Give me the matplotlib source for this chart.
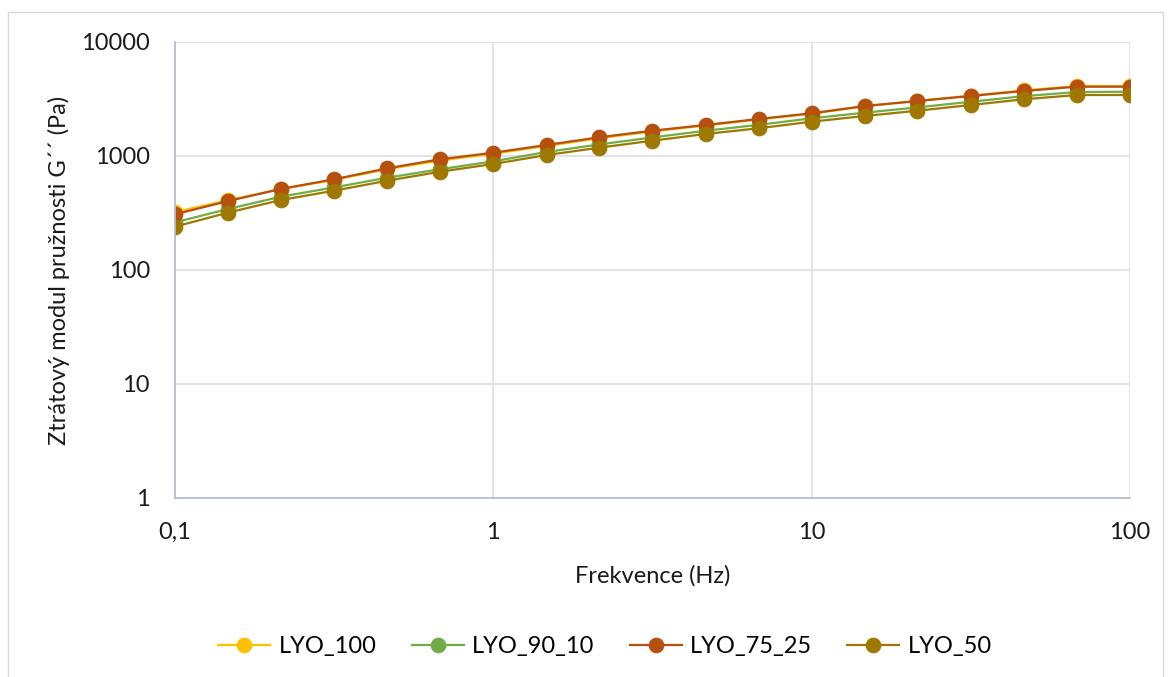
import numpy as np
import matplotlib.pyplot as plt
from matplotlib.patches import Rectangle

# frequency sweep, 6 points per decade
freq = [0.1, 0.147, 0.215, 0.316, 0.464, 0.681, 1.0, 1.47, 2.15, 3.16,
        4.64, 6.81, 10.0, 14.7, 21.5, 31.6, 46.4, 68.1, 100.0]

lyo_100 = [322, 410, 512, 618, 765, 915, 1045, 1225, 1430, 1640,
           1850, 2090, 2350, 2730, 3040, 3390, 3760, 4110, 4110]
lyo_90_10 = [262, 343, 440, 530, 645, 766, 898, 1085, 1262, 1455,
             1665, 1875, 2141, 2400, 2670, 2990, 3350, 3640, 3660]
lyo_75_25 = [308, 403, 514, 625, 780, 936, 1069, 1249, 1459, 1667,
             1871, 2112, 2370, 2746, 3037, 3360, 3718, 4055, 4055]
lyo_50 = [240, 319, 411, 496, 607, 728, 851, 1020, 1183, 1362,
          1560, 1750, 2000, 2244, 2497, 2801, 3143, 3428, 3428]

series = [("LYO_100", lyo_100, "#FFC000"),
          ("LYO_90_10", lyo_90_10, "#70AD47"),
          ("LYO_75_25", lyo_75_25, "#B5500F"),
          ("LYO_50", lyo_50, "#9E7800")]

plt.rcParams['font.family'] = ['Lato', 'DejaVu Sans']
fs = 17
txt = "#1a1a1a"

fig = plt.figure(figsize=(11.71, 6.77), dpi=100)
# outer chart border
fig.patches.append(Rectangle((8 / 1171, -0.05), (1163 - 8) / 1171, 1.05 - 12 / 677,
                             transform=fig.transFigure, fill=False,
                             edgecolor="#D9D9D9", lw=1))

ax = fig.add_axes([175 / 1171, 1 - 498 / 677, (1130 - 175) / 1171, (498 - 42) / 677])

for name, vals, col in series:
    ax.plot(freq, vals, color=col, lw=1.6, marker="o", ms=10.5,
            markeredgecolor=col, markeredgewidth=0.8, label=name)

ax.set_xscale("log")
ax.set_yscale("log")
ax.set_xlim(0.1, 100)
ax.set_ylim(1, 10000)

xt = [0.1, 1, 10, 100]
yt = [1, 10, 100, 1000, 10000]
ax.set_xticks(xt)
ax.set_xticklabels(["0,1", "1", "10", "100"])
ax.set_yticks(yt)
ax.set_yticklabels([str(v) for v in yt])
ax.minorticks_off()
ax.tick_params(length=0, labelsize=fs, labelcolor=txt)
ax.tick_params(axis="x", pad=17)
ax.tick_params(axis="y", pad=18)

ax.grid(True, color="#DDE1E9", lw=1.3)
ax.set_axisbelow(True)
for s in ["top", "right"]:
    ax.spines[s].set_visible(False)
for s in ["left", "bottom"]:
    ax.spines[s].set_color("#B4BFD0")
    ax.spines[s].set_linewidth(1.3)

ax.set_xlabel("Frekvence (Hz)", fontsize=fs, color=txt, labelpad=16)
ax.set_ylabel("Ztrátový modul pružnosti G´´ (Pa)", fontsize=fs, color=txt, labelpad=8)

ax.legend(loc="center", bbox_to_anchor=(605 / 1171, 30 / 677),
          bbox_transform=fig.transFigure, ncol=4, frameon=False,
          fontsize=fs, handlelength=2.2, handletextpad=0.35, columnspacing=1.5,
          markerscale=1.0)

fig.savefig("out.png", dpi=100)
